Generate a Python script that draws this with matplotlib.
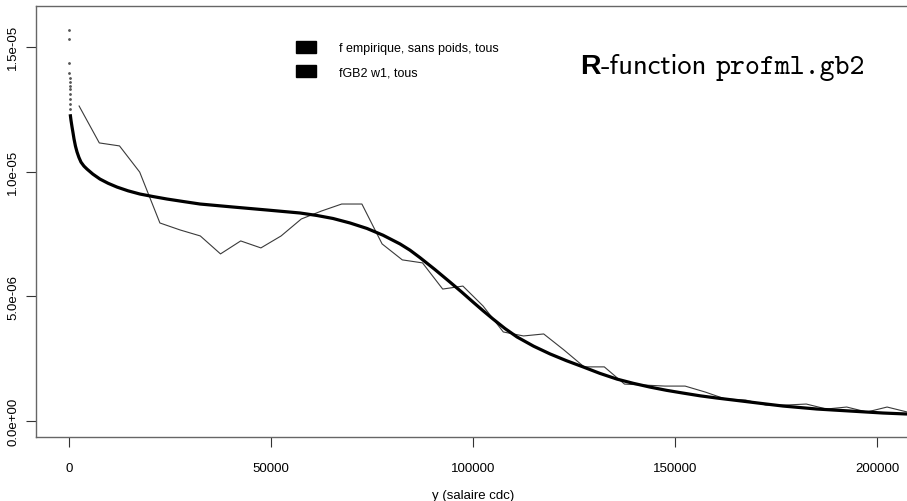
import numpy as np
import matplotlib
matplotlib.use("Agg")
import matplotlib.pyplot as plt
from matplotlib.patches import Patch

plt.rcParams['font.family'] = ['Liberation Sans', 'DejaVu Sans']

# empirical density (histogram midpoints, step 5000)
emp_x = [2500, 7500, 12500, 17500, 22500, 27500, 32500, 37500, 42500, 47500,
         52500, 57500, 62500, 67500, 72500, 77500, 82500, 87500, 92500, 97500,
         102500, 107500, 112500, 117500, 122500, 127500, 132500, 137500, 142500,
         147500, 152500, 157500, 162500, 167500, 172500, 177500, 182500, 187500,
         192500, 197500, 202500, 207500]
emp_y = [12.63, 11.15, 11.03, 9.98, 7.94, 7.66, 7.42, 6.70, 7.22, 6.94,
         7.42, 8.10, 8.42, 8.70, 8.70, 7.10, 6.46, 6.34, 5.29, 5.41,
         4.61, 3.57, 3.41, 3.49, 2.85, 2.17, 2.17, 1.48, 1.44,
         1.40, 1.40, 1.16, 0.88, 0.84, 0.64, 0.64, 0.68, 0.48,
         0.56, 0.36, 0.56, 0.36]

# fitted GB2 density
fit_x = [300, 500, 740, 1000, 1240, 1600, 1980, 2450, 2970, 3700, 4460, 5900,
         7670, 9700, 11880, 14600, 17570, 20800, 24260, 28300, 32430, 36500,
         40590, 44800, 49010, 53100, 57180, 61390, 65350, 69550, 73760, 77720,
         81930, 84400, 86880, 90600, 94300, 97200, 100000, 102500, 104950,
         107900, 110890, 115000, 119060, 123100, 127230, 131400, 135640, 139700,
         143810, 147900, 151980, 156200, 160400, 164500, 168560, 172600, 176730,
         180900, 185150, 189200, 193320, 197400, 201490, 207430]
fit_y = [12.30, 12.05, 11.80, 11.55, 11.31, 11.02, 10.79, 10.57, 10.38, 10.22,
         10.10, 9.90, 9.70, 9.53, 9.38, 9.23, 9.10, 9.00, 8.90, 8.80,
         8.70, 8.64, 8.58, 8.52, 8.46, 8.40, 8.34, 8.24, 8.12, 7.94,
         7.72, 7.45, 7.10, 6.85, 6.55, 6.07, 5.57, 5.17, 4.77, 4.42,
         4.09, 3.71, 3.37, 3.00, 2.69, 2.42, 2.17, 1.91, 1.68, 1.51,
         1.36, 1.23, 1.12, 1.01, 0.92, 0.84, 0.76, 0.68, 0.60,
         0.54, 0.48, 0.44, 0.40, 0.36, 0.32, 0.28]

# isolated fitted points close to zero
pts_x = [60, 80, 100, 120, 140, 160, 180, 200, 220, 240, 260, 280]
pts_y = [15.68, 15.32, 14.35, 13.95, 13.75, 13.60, 13.45, 13.30, 13.10,
         12.90, 12.70, 12.50]

sc = 1e-6
emp_y = np.array(emp_y) * sc
fit_y = np.array(fit_y) * sc
pts_y = np.array(pts_y) * sc

fig = plt.figure(figsize=(9.07, 5.02), dpi=100)
ax = fig.add_axes([36/907, 64/502, (960-36)/907, 431/502])

ax.plot(emp_x, emp_y, color='#3a3a3a', lw=0.8)
ax.plot(fit_x, fit_y, color='black', lw=2.3, solid_capstyle='butt',
        solid_joinstyle='round')
ax.plot(pts_x, pts_y, ls='none', marker='.', ms=2, color='#555555')

ax.set_xlim(-33*50000/202, (960-69)*50000/202)
ax.set_ylim(-16/24.94*1e-6, 415/24.94*1e-6)

ax.set_xticks([0, 50000, 100000, 150000, 200000])
ax.set_xticklabels(['0', '50000', '100000', '150000', '200000'])
ax.set_yticks([0, 5e-6, 1e-5, 1.5e-5])
ax.set_yticklabels(['0.0e+00', '5.0e-06', '1.0e-05', '1.5e-05'],
                   rotation=90, va='center')
ax.tick_params(axis='x', length=7, pad=11, labelsize=9.5, color='#333333')
ax.tick_params(axis='y', length=7, pad=5, labelsize=9.5, color='#333333')
for s in ax.spines.values():
    s.set_color('#666666')
    s.set_linewidth(1.0)

fig.text(473/907, (502-490)/502, 'y (salaire cdc)', ha='center', va='top',
         fontsize=9.5)

leg = ax.legend(handles=[Patch(color='black'), Patch(color='black')],
                labels=['f empirique, sans poids, tous', 'fGB2 w1, tous'],
                loc='upper left', bbox_to_anchor=(286/907, 1 - 32/502),
                bbox_transform=fig.transFigure, frameon=False, fontsize=9,
                handlelength=1.6, handleheight=1.1, handletextpad=1.85,
                labelspacing=0.85, borderpad=0.3)

# "R-function profml.gb2"
fig.canvas.draw()
r = fig.canvas.get_renderer()
x0, yb = 580, 502 - 74
t1 = fig.text(x0/907, yb/502, 'R', fontsize=20.5, fontweight='bold',
              family='Liberation Sans', va='baseline')
w1 = t1.get_window_extent(r).width
t2 = fig.text((x0 + w1)/907, yb/502, '-function', fontsize=20.5,
              family='cmss10', va='baseline')
w2 = t2.get_window_extent(r).width
fig.text((x0 + w1 + w2 + 9)/907, yb/502, 'profml.gb2', fontsize=20.5,
         family='cmtt10', va='baseline')

fig.savefig('out.png', dpi=100)
